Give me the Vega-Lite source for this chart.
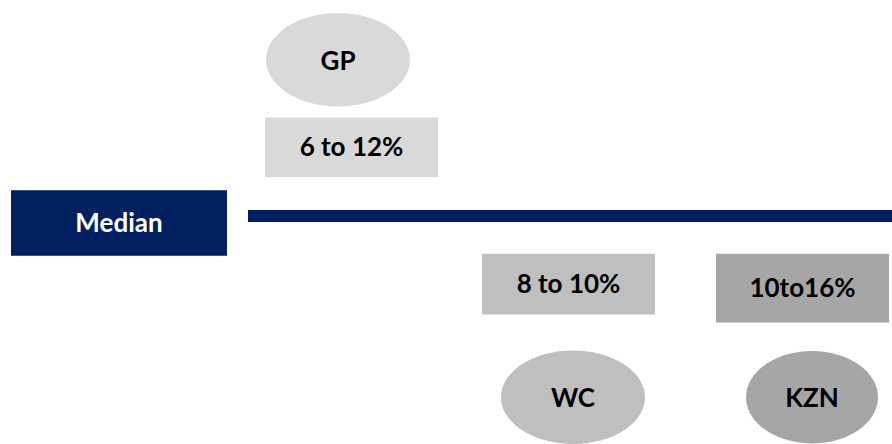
{
  "$schema": "https://vega.github.io/schema/vega-lite/v6.json",
  "width": 892,
  "height": 444,
  "autosize": {"type": "fit", "contains": "padding"},
  "padding": 0,
  "background": "white",
  "config": {"view": {"stroke": null}},
  "datasets": {
    "boxes": [
      {"label": "Median", "x": 11, "x2": 227, "y": 191, "y2": 257, "tone": "navy"},
      {"label": "", "x": 248, "x2": 892, "y": 211, "y2": 223, "tone": "navy"},
      {"label": "6 to 12%", "x": 265, "x2": 438, "y": 118, "y2": 178, "tone": "light"},
      {"label": "8 to 10%", "x": 482, "x2": 655, "y": 255, "y2": 316, "tone": "mid"},
      {"label": "10to16%", "x": 716, "x2": 889, "y": 255, "y2": 324, "tone": "dark"}
    ],
    "ovals": [
      {"label": "GP", "x": 338, "y": 60, "tone": "light"},
      {"label": "WC", "x": 573, "y": 399, "tone": "mid"},
      {"label": "KZN", "x": 812, "y": 399, "tone": "dark"}
    ]
  },
  "encoding": {
    "x": {"field": "x", "type": "quantitative", "scale": {"domain": [0, 892], "nice": false, "zero": false}, "axis": null},
    "y": {"field": "y", "type": "quantitative", "scale": {"domain": [0, 444], "nice": false, "zero": false, "reverse": true}, "axis": null}
  },
  "layer": [
    {
      "data": {"name": "boxes"},
      "mark": {"type": "rect", "strokeWidth": 0},
      "encoding": {
        "x2": {"field": "x2"},
        "y2": {"field": "y2"},
        "color": {"field": "tone", "type": "nominal", "legend": null,
          "scale": {"domain": ["navy", "light", "mid", "dark"], "range": ["#002060", "#d9d9d9", "#bfbfbf", "#a6a6a6"]}}
      }
    },
    {
      "data": {"name": "boxes"},
      "transform": [{"filter": "datum.label !== ''"}, {"calculate": "(datum.x + datum.x2) / 2", "as": "cx"}, {"calculate": "(datum.y + datum.y2) / 2", "as": "cy"}],
      "mark": {"type": "text", "font": "Lato", "fontWeight": "bold", "fontSize": 26, "align": "center", "baseline": "middle", "dy": 1},
      "encoding": {
        "x": {"field": "cx", "type": "quantitative"},
        "y": {"field": "cy", "type": "quantitative"},
        "text": {"field": "label"},
        "color": {"condition": {"test": "datum.tone === 'navy'", "value": "white"}, "value": "black"}
      }
    },
    {
      "data": {"name": "ovals"},
      "transform": [{"filter": "datum.label !== 'KZN'"}],
      "mark": {"type": "point", "filled": true, "opacity": 1, "strokeWidth": 0, "size": 20736, "shape": "M-1,0A1,0.65,0,1,0,1,0A1,0.65,0,1,0,-1,0Z"},
      "encoding": {
        "color": {"field": "tone", "type": "nominal", "legend": null}
      }
    },
    {
      "data": {"name": "ovals"},
      "transform": [{"filter": "datum.label === 'KZN'"}],
      "mark": {"type": "point", "filled": true, "opacity": 1, "strokeWidth": 0, "size": 17424, "shape": "M-1,0A1,0.7,0,1,0,1,0A1,0.7,0,1,0,-1,0Z"},
      "encoding": {
        "color": {"field": "tone", "type": "nominal", "legend": null}
      }
    },
    {
      "data": {"name": "ovals"},
      "mark": {"type": "text", "font": "Lato", "fontWeight": "bold", "fontSize": 26, "align": "center", "baseline": "middle", "dy": 2, "color": "black"},
      "encoding": {
        "text": {"field": "label"}
      }
    }
  ]
}
